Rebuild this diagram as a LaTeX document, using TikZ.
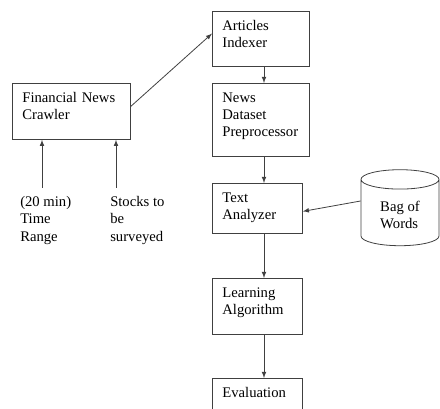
\documentclass[tikz,border=0pt]{standalone}
\usepackage{fontspec}
\setmainfont{Liberation Serif}
\usetikzlibrary{shapes.geometric}

\begin{document}
\begin{tikzpicture}[x=0.75pt, y=-0.75pt,
        every node/.style={font=\fontsize{11}{13}\selectfont},
        stage/.style={draw=black!75, line width=0.6pt, anchor=north west, align=left,
            inner xsep=7.5pt, inner ysep=6.5pt, text height=7.5pt},
        flow/.style={-latex, line width=0.6pt, draw=black!75}]
        \clip (0,0) rectangle (440,409);

        % crawler and its two inputs
        \node[stage, text width=73.5pt, text depth=21.5pt] (crawler) at (12,83) {Financial News\\Crawler};
        \node[anchor=north west, align=left, inner sep=0pt] (range) at (20,196) {(20 min)\\Time\\Range};
        \node[anchor=north west, align=left, inner sep=0pt] (stocks) at (110,196) {Stocks to\\be\\surveyed};
        \coordinate (t1) at (42,188);
        \coordinate (t2) at (116,188);

        % main pipeline
        \node[stage, text width=57.75pt, text depth=20.75pt] (indexer) at (212,11) {Articles\\Indexer};
        \node[stage, text width=57.75pt, text depth=34.25pt] (preproc) at (212,83) {News\\Dataset\\Preprocessor};
        \node[stage, text width=52.5pt, text depth=17pt] (analyzer) at (212,183) {Text\\Analyzer};
        \node[stage, text width=52.5pt, text depth=21.5pt] (learning) at (212,278) {Learning\\Algorithm};
        \node[stage, text width=52.5pt, text depth=17pt] (evaluation) at (212,378) {Evaluation};

        % word list store
        \node[cylinder, shape border rotate=90, draw=black!75, line width=0.6pt, aspect=0.4,
            minimum width=58.5pt, minimum height=57pt, align=left] (bag) at (400,215) {Bag of\\Words};

        \draw[flow] (t1) -- (t1 |- crawler.south);
        \draw[flow] (t2) -- (t2 |- crawler.south);
        \draw[flow] ([yshift=3.75pt]crawler.east) -- ([yshift=4pt]indexer.west);
        \foreach \a/\b in {indexer/preproc, preproc/analyzer, analyzer/learning, learning/evaluation}
            \draw[flow] ([xshift=39pt]\a.south west) -- ([xshift=39pt]\b.north west);
        \draw[flow] ([yshift=10.5pt]bag.west) -- ([yshift=-2.25pt]analyzer.east);
    \end{tikzpicture}
\end{document}
